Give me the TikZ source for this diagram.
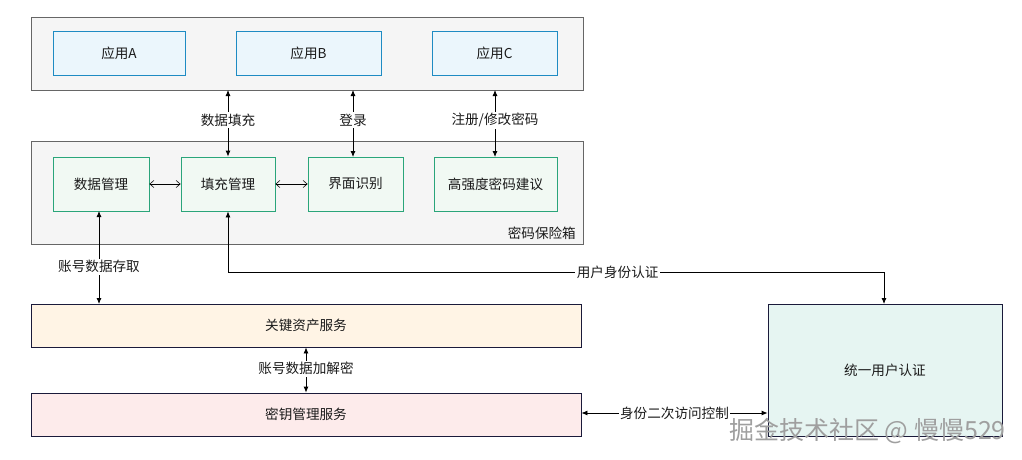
\documentclass[tikz,border=0pt]{standalone}
\usepackage{fontspec}
\setmainfont{Noto Sans CJK SC}
\usetikzlibrary{arrows.meta}
\definecolor{contfill}{HTML}{F5F5F5}
\definecolor{contdraw}{HTML}{666666}
\definecolor{appfill}{HTML}{EBF6FC}
\definecolor{appdraw}{HTML}{1E8BC3}
\definecolor{modfill}{HTML}{F1F9F3}
\definecolor{moddraw}{HTML}{2AA57A}
\definecolor{navy}{HTML}{1A1A3A}
\definecolor{keyfill}{HTML}{FFF4E5}
\definecolor{kmsfill}{HTML}{FDEBEB}
\definecolor{authfill}{HTML}{E6F5F2}
\definecolor{txt}{HTML}{1A1A1A}
\tikzset{
  every node/.style={font=\fontsize{13.6}{16}\selectfont, text=txt},
  cont/.style={draw=contdraw, fill=contfill, line width=0.8pt},
  appbox/.style={draw=appdraw, fill=appfill, line width=0.8pt},
  modbox/.style={draw=moddraw, fill=modfill, line width=0.8pt},
  svcbox/.style={draw=navy, line width=0.8pt},
  conn/.style={draw=black, line width=0.8pt, {Latex[length=6pt,width=5pt]}-{Latex[length=6pt,width=5pt]}},
  thinconn/.style={draw=black, line width=0.6pt, {Straight Barb[length=4pt,width=7pt]}-{Straight Barb[length=4pt,width=7pt]}},
  lbl/.style={fill=white, inner sep=1.5pt},
}
\begin{document}
\begin{tikzpicture}[x=1pt,y=-1pt]
\useasboundingbox (0,0) rectangle (1022,460);
\fill[white] (0,0) rectangle (1022,460);
% containers
\draw[cont] (31,17) rectangle (583,90);
\draw[cont] (31,141) rectangle (583,244);
\node[anchor=south east, inner sep=0pt] (vaultlbl) at (576,240) {密码保险箱};
% apps
\node[appbox, minimum width=132pt, minimum height=44pt, inner sep=0pt] (appA) at (119,53) {应用A};
\node[appbox, minimum width=145pt, minimum height=44pt, inner sep=0pt] (appB) at (308.5,53) {应用B};
\node[appbox, minimum width=125pt, minimum height=44pt, inner sep=0pt] (appC) at (494.5,53) {应用C};
% modules
\node[modbox, minimum width=96pt, minimum height=54pt, inner sep=0pt] (dm) at (101,184) {数据管理};
\node[modbox, minimum width=94pt, minimum height=54pt, inner sep=0pt] (fm) at (228,184) {填充管理};
\node[modbox, minimum width=95pt, minimum height=54pt, inner sep=0pt] (ui) at (355.5,184) {界面识别};
\node[modbox, minimum width=123pt, minimum height=54pt, inner sep=0pt] (pw) at (495.5,184) {高强度密码建议};
% services
\node[svcbox, fill=keyfill, minimum width=550pt, minimum height=43pt, inner sep=0pt] (kas) at (306,325.5) {关键资产服务};
\node[svcbox, fill=kmsfill, minimum width=550pt, minimum height=43pt, inner sep=0pt] (kms) at (306,414.5) {密钥管理服务};
\node[svcbox, fill=authfill, minimum width=234pt, minimum height=132pt, inner sep=0pt] (auth) at (885,370) {统一用户认证};
% coordinates
\coordinate (topbot1) at (228,90);
\coordinate (topbot2) at (353,90);
\coordinate (topbot3) at (495,90);
% vertical arrows top
\draw[conn] (topbot1) -- node[lbl, pos=0.45] (l1) {数据填充} (fm.north);
\draw[conn] (topbot2) -- node[lbl, pos=0.45] (l2) {登录} (353,157);
\draw[conn] (topbot3) -- node[lbl, pos=0.45] (l3) {注册/修改密码} (495,157);
% horizontal thin arrows
\draw[thinconn] (dm.east) -- (fm.west);
\draw[thinconn] (fm.east) -- (ui.west);
% account data
\draw[conn] (99,211) -- node[lbl, pos=0.6] (l4) {账号数据存取} (99,304);
% user auth
\draw[conn] (fm.south) |- node[lbl, pos=0.797] (l5) {用户身份认证} (884,272) -- (884,304);
% encryption
\draw[conn] (kas.south) -- node[lbl, pos=0.47] (l6) {账号数据加解密} (kms.north);
% secondary access
\draw[conn] (kms.east |- 0,413) -- node[lbl] (l7) {身份二次访问控制} (auth.west |- 0,413);
% watermark
\node[anchor=east, inner sep=0pt, text=gray!75, font=\fontsize{25}{28}\selectfont] (wm) at (1006,431) {掘金技术社区 @ 慢慢529};
\end{tikzpicture}
\end{document}
